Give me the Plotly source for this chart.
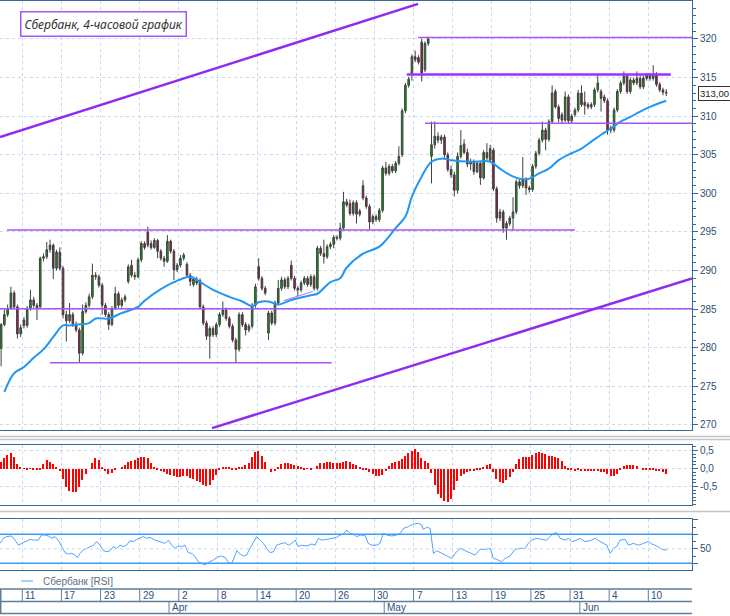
import plotly.graph_objects as go

# ---- price data: one 4-hour candle per index (Mar 5 .. Jun 11) ----
open_ = [
    279.9, 283.0, 284.3, 285.1, 287.1, 285.3, 281.8, 283.6, 282.9, 285.1,
    286.2, 285.5, 285.3, 291.6, 291.8, 292.7, 293.3, 290.3, 292.4, 290.3,
    284.3, 283.5, 284.3, 283.0, 282.3, 279.3, 284.7, 285.5, 286.6, 289.4,
    289.2, 288.1, 285.5, 284.3, 283.0, 285.1, 287.0, 285.5, 286.2, 288.6,
    290.7, 289.4, 289.2, 291.4, 293.5, 295.0, 293.5, 293.0, 293.9, 292.5,
    291.6, 291.2, 293.8, 292.5, 290.1, 290.7, 291.6, 290.8, 289.4, 288.2,
    288.9, 288.7, 285.3, 283.2, 281.5, 282.5, 281.7, 283.0, 284.3, 284.9,
    283.8, 282.8, 281.0, 279.8, 284.3, 283.0, 282.3, 282.8, 285.5, 290.5,
    289.0, 287.7, 281.9, 284.5, 283.2, 285.8, 287.7, 288.8, 287.9, 290.7,
    289.0, 287.7, 287.5, 288.4, 289.0, 288.2, 289.2, 287.7, 292.9, 292.2,
    291.8, 293.1, 293.4, 294.3, 294.2, 295.5, 298.9, 298.7, 297.4, 298.8,
    297.3, 301.0, 299.4, 298.3, 296.3, 297.0, 296.6, 297.8, 303.3, 302.6,
    303.5, 302.9, 303.9, 305.0, 310.7, 314.0, 315.6, 317.7, 317.6, 319.6,
    316.0, 319.4, 304.8, 306.3, 307.4, 306.9, 307.3, 305.0, 303.1, 302.4,
    300.4, 304.8, 306.4, 305.3, 303.8, 304.1, 302.8, 303.9, 302.0, 305.3,
    304.3, 305.6, 300.6, 296.8, 297.6, 295.5, 296.1, 296.8, 297.6, 301.5,
    301.0, 301.8, 300.7, 300.5, 303.5, 305.2, 306.9, 308.2, 307.0, 309.3,
    313.2, 311.2, 310.2, 309.5, 312.5, 309.4, 310.2, 310.8, 313.0, 311.8,
    311.5, 311.2, 311.5, 313.4, 313.2, 312.5, 312.0, 308.5, 308.2, 310.8,
    313.2, 314.3, 315.2, 313.2, 314.7, 314.3, 314.9, 313.8, 314.9, 315.3,
    314.9, 315.4, 314.1, 313.4, 313.1,
]
high = [
    283.2, 285.1, 285.6, 287.9, 287.4, 285.6, 283.0, 284.0, 285.4, 287.5,
    286.6, 285.8, 291.8, 292.2, 293.7, 294.0, 293.5, 292.7, 293.0, 290.6,
    284.8, 285.8, 284.6, 283.4, 282.6, 285.6, 285.9, 287.0, 290.9, 289.8,
    289.5, 288.4, 285.8, 284.6, 285.4, 287.9, 287.3, 286.5, 286.9, 290.8,
    291.4, 289.8, 291.7, 293.8, 293.8, 295.7, 293.9, 294.2, 294.1, 292.8,
    291.9, 294.6, 294.0, 292.8, 291.0, 292.0, 292.3, 291.1, 289.7, 289.2,
    289.2, 289.0, 285.6, 283.5, 282.8, 282.8, 283.3, 284.6, 286.0, 285.2,
    284.1, 283.1, 281.3, 284.6, 284.6, 283.3, 283.1, 285.8, 288.3, 291.6,
    289.3, 288.0, 284.8, 284.8, 286.1, 288.8, 289.2, 289.1, 289.3, 291.3,
    289.3, 288.0, 288.7, 289.3, 289.3, 289.5, 289.5, 293.2, 293.2, 294.0,
    293.4, 293.7, 294.6, 294.6, 296.2, 300.2, 299.3, 299.2, 299.1, 299.1,
    298.0, 301.7, 299.7, 298.6, 297.3, 297.3, 298.1, 303.6, 304.1, 303.8,
    303.8, 304.2, 306.1, 311.0, 314.3, 315.1, 318.0, 318.5, 317.9, 320.0,
    319.7, 320.3, 309.3, 309.3, 307.9, 307.6, 307.6, 305.3, 303.6, 302.8,
    305.3, 308.2, 307.0, 305.8, 304.5, 304.4, 304.2, 304.1, 305.6, 306.5,
    306.3, 305.9, 300.9, 298.0, 297.9, 296.4, 297.1, 299.5, 301.8, 301.8,
    304.7, 302.1, 301.0, 303.8, 305.5, 307.2, 309.3, 308.5, 309.6, 314.0,
    313.5, 311.5, 310.5, 313.2, 312.8, 310.3, 311.1, 313.4, 314.0, 313.2,
    311.8, 311.8, 313.7, 315.3, 313.5, 312.8, 312.3, 308.8, 311.1, 313.5,
    314.6, 315.8, 315.5, 315.0, 315.0, 315.8, 315.2, 315.2, 315.6, 315.6,
    316.6, 315.7, 314.4, 313.7, 313.5,
]
low = [
    277.6, 282.8, 284.0, 284.9, 285.0, 281.2, 281.4, 282.5, 282.6, 284.8,
    285.2, 283.6, 285.0, 291.2, 291.5, 292.3, 288.9, 290.0, 290.0, 283.8,
    280.8, 283.2, 282.7, 282.0, 278.1, 279.0, 284.4, 285.2, 286.3, 288.8,
    287.8, 284.3, 284.0, 282.3, 282.8, 284.9, 285.2, 285.2, 285.9, 288.3,
    289.1, 288.8, 289.0, 291.1, 292.7, 293.0, 292.7, 292.8, 291.6, 291.3,
    290.5, 291.0, 292.2, 288.8, 289.8, 290.4, 291.3, 289.2, 288.0, 287.9,
    288.1, 285.0, 282.9, 281.0, 278.6, 281.4, 281.4, 282.7, 284.0, 283.5,
    282.5, 280.7, 278.1, 279.5, 282.7, 281.6, 282.0, 282.5, 285.2, 288.7,
    287.4, 286.8, 281.0, 282.9, 282.9, 285.5, 287.4, 287.6, 287.6, 288.7,
    287.4, 286.7, 287.2, 288.1, 287.9, 287.9, 287.4, 287.4, 291.9, 290.9,
    291.5, 292.8, 292.9, 293.9, 293.9, 295.2, 298.2, 297.1, 297.1, 296.1,
    297.0, 299.1, 298.0, 295.3, 296.0, 296.3, 296.3, 297.5, 302.3, 302.3,
    302.6, 302.6, 303.6, 304.7, 310.4, 313.7, 314.6, 317.0, 316.7, 314.5,
    315.7, 319.1, 301.3, 305.8, 306.5, 306.4, 304.6, 302.8, 302.0, 299.6,
    300.0, 304.5, 305.1, 303.4, 303.0, 302.4, 302.6, 301.1, 301.8, 304.3,
    304.0, 300.3, 296.2, 296.4, 294.9, 294.0, 295.8, 295.2, 297.3, 300.6,
    300.7, 299.8, 300.1, 300.2, 303.2, 304.9, 306.6, 305.6, 306.7, 309.0,
    311.0, 309.2, 309.1, 309.2, 309.1, 309.1, 309.9, 310.5, 311.2, 310.2,
    310.9, 310.9, 311.2, 313.1, 310.6, 311.7, 307.6, 307.8, 307.9, 310.5,
    312.9, 314.0, 312.9, 312.9, 314.0, 314.0, 313.5, 313.5, 314.6, 314.6,
    314.6, 313.8, 313.1, 312.7, 312.6,
]
close = [
    283.0, 284.3, 285.1, 287.1, 285.3, 281.8, 282.6, 282.9, 285.1, 286.2,
    285.5, 285.1, 291.6, 291.8, 292.7, 293.3, 290.3, 292.4, 290.3, 284.3,
    283.5, 284.3, 283.0, 282.3, 279.3, 284.7, 285.5, 286.6, 289.4, 289.2,
    288.1, 285.5, 284.3, 283.0, 285.1, 287.0, 285.5, 286.2, 286.6, 290.5,
    289.4, 289.2, 291.4, 293.5, 293.0, 293.3, 293.0, 293.9, 292.5, 291.6,
    291.2, 293.8, 292.5, 290.1, 290.7, 291.6, 292.0, 289.4, 288.6, 288.9,
    288.4, 285.3, 283.2, 281.5, 282.5, 281.7, 283.0, 284.3, 284.9, 283.8,
    282.8, 281.0, 279.8, 284.3, 283.0, 282.3, 282.8, 285.5, 287.9, 289.0,
    287.7, 287.1, 284.5, 283.2, 285.8, 287.7, 288.8, 287.9, 289.0, 289.0,
    287.7, 287.5, 288.4, 289.0, 288.2, 289.2, 287.7, 292.9, 292.2, 291.8,
    293.1, 293.4, 294.3, 294.2, 295.5, 298.9, 298.5, 297.4, 298.8, 297.3,
    297.7, 299.4, 298.3, 296.3, 297.0, 296.6, 297.8, 303.3, 302.6, 303.5,
    302.9, 303.9, 304.8, 310.7, 314.0, 314.8, 317.7, 317.3, 317.0, 315.6,
    319.4, 320.0, 306.3, 307.4, 306.9, 307.3, 305.0, 303.1, 302.4, 300.4,
    304.8, 306.2, 305.3, 303.8, 304.1, 302.8, 303.9, 302.0, 305.3, 304.6,
    305.8, 300.6, 296.8, 297.6, 295.5, 296.1, 296.8, 297.6, 301.5, 301.0,
    301.8, 300.7, 300.5, 303.5, 305.2, 306.9, 308.2, 307.0, 309.3, 313.0,
    311.2, 309.7, 309.5, 312.5, 309.4, 310.0, 310.8, 313.0, 311.5, 311.4,
    311.2, 311.5, 313.4, 314.3, 312.3, 312.0, 308.2, 308.2, 310.8, 313.2,
    314.3, 315.2, 313.2, 314.7, 314.3, 314.9, 313.8, 314.9, 315.3, 314.9,
    315.4, 314.1, 313.4, 313.1, 313.0,
]
bars = list(range(len(close)))

# moving average (bar index, value)
ma_pos = [1, 4, 7, 10, 13, 16, 19, 21, 23, 27, 29, 33, 37, 42, 44, 49, 53, 58, 60,
          65, 70, 74, 77, 79, 82, 85, 89, 95, 97, 101, 104, 106, 111, 116, 121, 124,
          126, 129, 132, 135, 138, 144, 150, 153, 156, 159, 162, 165, 168, 171, 175,
          178, 181, 184, 187, 190, 193, 196, 199, 202, 204]
ma_val = [274.3, 276.7, 277.5, 278.7, 279.8, 281.4, 282.9, 282.9, 283.0, 283.2,
          283.8, 283.8, 284.5, 285.3, 286.1, 287.6, 288.5, 289.2, 288.8, 287.5,
          286.6, 286.0, 285.4, 285.9, 286.0, 285.6, 286.2, 286.8, 287.0, 288.5,
          289.0, 290.4, 292.2, 293.1, 295.5, 297.0, 299.6, 302.2, 304.1, 304.5,
          304.3, 304.1, 304.1, 303.2, 302.4, 301.9, 301.9, 302.6, 303.2, 304.3,
          305.2, 305.8, 306.7, 307.6, 308.4, 309.3, 309.9, 310.6, 311.2, 311.7,
          312.0]

# MACD histogram, one value per bar
macd_hist = [
    0.18, 0.28, 0.37, 0.43, 0.33, 0.12, 0.02, -0.01, -0.02, -0.01,
    -0.02, -0.04, -0.02, 0.12, 0.23, 0.18, 0.12, 0.04, -0.06, -0.30,
    -0.50, -0.62, -0.66, -0.65, -0.52, -0.33, -0.15, 0.00, 0.14, 0.30,
    0.25, 0.05, -0.08, -0.14, -0.12, -0.05, 0.00, 0.04, 0.10, 0.17,
    0.21, 0.24, 0.30, 0.33, 0.32, 0.28, 0.15, 0.05, -0.02, -0.07,
    -0.11, -0.15, -0.18, -0.21, -0.23, -0.23, -0.22, -0.22, -0.25, -0.29,
    -0.34, -0.38, -0.46, -0.48, -0.45, -0.33, -0.17, -0.03, 0.05, 0.04,
    0.02, -0.03, -0.02, 0.03, 0.05, 0.09, 0.16, 0.32, 0.45, 0.48,
    0.35, 0.18, 0.00, -0.10, -0.08, 0.05, 0.12, 0.16, 0.15, 0.12,
    0.10, 0.08, 0.03, -0.02, -0.01, -0.02, 0.00, 0.08, 0.14, 0.16,
    0.17, 0.17, 0.16, 0.15, 0.14, 0.18, 0.21, 0.19, 0.13, 0.09,
    0.04, -0.02, -0.05, -0.10, -0.16, -0.20, -0.22, -0.17, -0.08, 0.08,
    0.15, 0.17, 0.20, 0.27, 0.35, 0.42, 0.50, 0.53, 0.45, 0.30,
    0.20, 0.14, -0.12, -0.45, -0.70, -0.82, -0.89, -0.92, -0.85, -0.60,
    -0.36, -0.22, -0.14, -0.10, -0.08, -0.07, -0.05, -0.03, 0.03, 0.09,
    0.13, -0.10, -0.28, -0.38, -0.41, -0.33, -0.24, -0.10, 0.12, 0.27,
    0.31, 0.33, 0.32, 0.37, 0.42, 0.45, 0.43, 0.40, 0.36, 0.34,
    0.33, 0.30, 0.20, 0.06, -0.03, -0.05, -0.06, -0.05, -0.06, -0.07,
    -0.06, -0.08, -0.06, -0.07, -0.09, -0.10, -0.15, -0.20, -0.22, -0.15,
    -0.05, 0.06, 0.10, 0.11, 0.10, 0.06, 0.00, -0.02, -0.03, -0.04,
    -0.04, -0.06, -0.08, -0.11, -0.14,
]

# RSI line (bar position, value)
rsi_pos = [
    -0.3, 0.7, 1.7, 3.2, 4.3, 5.3, 6.3, 7.3, 8.9, 9.9, 11.4, 12.4, 13.5, 14.5, 15.5,
    16.5, 17.5, 18.6, 19.6, 20.6, 21.6, 22.7, 23.4, 24.2, 25.2, 26.2, 27.3, 28.3,
    29.3, 30.3, 31.4, 32.4, 33.4, 34.4, 35.4, 36.5, 37.5, 38.5, 39.5, 40.6, 41.6,
    42.6, 43.6, 44.7, 45.7, 47.2, 48.7, 50.3, 51.3, 52.3, 53.3, 54.4, 55.4, 56.4,
    57.4, 58.5, 59.5, 60.5, 61.5, 62.5, 63.6, 65.1, 66.6, 67.7, 68.7, 69.7, 70.7,
    71.2, 72.3, 73.3, 74.3, 75.3, 76.3, 77.4, 78.4, 79.4, 80.4, 81.5, 82.5, 83.5,
    84.5, 86.1, 87.1, 88.1, 89.1, 90.2, 91.2, 92.2, 93.7, 95.3, 96.3, 97.3, 98.3,
    99.9, 101.4, 102.9, 104.0, 105.0, 106.0, 107.0, 108.0, 109.1, 110.1, 111.6,
    112.6, 113.7, 115.2, 116.2, 117.2, 118.3, 119.8, 121.3, 122.4, 123.4, 124.9,
    126.4, 128.0, 129.0, 129.5, 130.5, 131.6, 132.1, 132.6, 133.6, 135.1, 136.7,
    138.2, 139.2, 140.8, 142.3, 143.8, 145.4, 146.9, 148.4, 150.0, 151.0, 152.0,
    153.5, 154.6, 156.1, 157.6, 159.2, 160.7, 161.7, 162.7, 164.3, 165.8, 167.3,
    168.4, 169.4, 170.4, 171.4, 173.0, 174.0, 175.0, 176.0, 177.6, 179.1, 180.6,
    182.2, 183.7, 184.7, 185.8, 186.8, 187.8, 188.8, 189.8, 191.4, 192.4, 193.9,
    195.5, 197.0, 198.5, 199.6, 201.1, 202.6, 204.2,
]
rsi_val = [
    57.5, 64.5, 66.8, 67.7, 62.0, 55.0, 57.5, 60.0, 63.0, 62.0, 62.0, 69.0, 69.0, 67.7, 64.5,
    66.8, 62.0, 53.0, 44.7, 42.8, 43.7, 41.4, 37.8, 43.7, 48.3, 50.6, 53.0, 55.0,
    60.0, 55.0, 47.4, 46.0, 47.4, 53.0, 50.6, 55.0, 53.0, 55.0, 61.2, 60.0, 63.0,
    64.5, 66.8, 64.5, 65.8, 62.0, 60.0, 57.5, 62.0, 55.0, 50.6, 53.9, 53.0, 55.0,
    44.7, 43.7, 39.1, 32.2, 30.0, 27.7, 31.4, 34.6, 39.1, 40.0, 38.2, 30.9, 30.0,
    34.6, 47.4, 42.8, 40.0, 41.4, 50.6, 60.0, 66.8, 62.0, 57.5, 50.6, 44.7, 46.0,
    55.0, 57.5, 58.4, 55.0, 57.5, 62.0, 53.0, 55.0, 53.9, 56.6, 55.0, 64.5, 62.0,
    63.0, 64.5, 65.8, 69.0, 70.3, 75.9, 71.3, 70.3, 66.8, 69.0, 68.5,
    57.5, 55.0, 55.0, 57.5, 71.3, 69.0, 67.7, 69.0, 71.3, 78.2, 80.5,
    84.2, 85.1, 82.8, 76.8, 79.6, 78.2, 62.0, 43.7, 47.4, 43.7, 40.0,
    36.8, 43.7, 50.6, 47.4, 44.7, 41.4, 49.3, 49.3, 50.6, 36.8, 35.5,
    32.2, 36.8, 40.0, 49.3, 50.6, 50.6, 57.5, 62.0, 64.5, 63.0, 62.0,
    66.8, 71.3, 72.2, 64.5, 62.0, 64.5, 60.0, 61.2, 64.5, 60.0, 61.2,
    64.5, 60.0, 57.5, 55.0, 43.7, 50.6, 53.0, 62.0, 63.0, 55.0, 57.5,
    55.0, 57.5, 60.0, 56.6, 53.9, 49.3, 48.3,
]

# date scale: a label every 12 bars, months
day_labels = ["11", "17", "23", "29", "2", "8", "14", "20", "26", "30",
              "7", "13", "19", "25", "31", "4", "10"]
day_pos = [6.5 + 12 * k for k in range(len(day_labels))]
month_labels = ["Apr", "May", "Jun"]
month_pos = [51.5, 117.5, 177.5]

# drawn support / resistance levels: (from bar, to bar, price)
levels_thin = [(127.9, 212.0, 320.2), (130.0, 212.0, 309.1), (1.8, 176.0, 295.25),
               (-0.4, 212.0, 285.05), (15.0, 101.4, 278.05)]
level_thick = (124.4, 205.4, 315.4)
trends = [(-0.34, 307.3, 127.9, 324.55), (64.7, 269.6, 211.9, 288.97)]
short_trend = (86.6, 286.1, 95.6, 287.3)

W, H = 730, 616
X_END = 692 / W
X_RANGE = [-0.34, 211.9]
BORDER = "#3b6797"
GRID = "#c6dbf1"
TXT = "#2e4f73"
FONT = "Liberation Sans"


def py(px):
    return 1 - px / H


fig = go.Figure()
fig.add_trace(go.Candlestick(
    x=bars, open=open_, high=high, low=low, close=close,
    increasing=dict(line=dict(color="#404040", width=1), fillcolor="#00a800"),
    decreasing=dict(line=dict(color="#404040", width=1), fillcolor="#a3124e"),
    whiskerwidth=0, xaxis="x", yaxis="y", hoverinfo="skip", name="Сбербанк"))
fig.add_trace(go.Scatter(x=ma_pos, y=ma_val, mode="lines", xaxis="x", yaxis="y",
                         line=dict(color="#2196f3", width=2, shape="spline"),
                         hoverinfo="skip"))
fig.add_trace(go.Bar(x=bars, y=macd_hist, xaxis="x2", yaxis="y2", width=0.45,
                     marker=dict(color="#ff0000", line=dict(width=0)), hoverinfo="skip"))
fig.add_trace(go.Scatter(x=rsi_pos, y=rsi_val, mode="lines", xaxis="x3", yaxis="y3",
                         line=dict(color="#4da3ff", width=1), hoverinfo="skip"))

xcommon = dict(domain=[0, X_END], range=X_RANGE, tickvals=day_pos, showticklabels=False,
               ticks="", showgrid=True, gridcolor=GRID, griddash="dot", zeroline=False,
               showline=True, mirror=True, linecolor=BORDER, linewidth=1)
ycommon = dict(side="right", showline=True, mirror=True, linecolor=BORDER, linewidth=1,
               ticks="outside", ticklen=5, tickcolor=BORDER, zeroline=False,
               tickfont=dict(family=FONT, size=10, color=TXT),
               showgrid=True, gridcolor=GRID, griddash="dot")

shapes = []
for x0, x1, y in levels_thin:
    shapes.append(dict(type="line", xref="x", yref="y", x0=x0, x1=x1, y0=y, y1=y,
                       line=dict(color="#a855f7", width=1.5)))
shapes.append(dict(type="line", xref="x", yref="y", x0=level_thick[0], x1=level_thick[1],
                   y0=level_thick[2], y1=level_thick[2],
                   line=dict(color="#9b30ff", width=2.5)))
for x0, y0, x1, y1 in trends:
    shapes.append(dict(type="line", xref="x", yref="y", x0=x0, y0=y0, x1=x1, y1=y1,
                       line=dict(color="#8f2bf0", width=2.5)))
shapes.append(dict(type="line", xref="x", yref="y", x0=short_trend[0], y0=short_trend[1],
                   x1=short_trend[2], y1=short_trend[3], line=dict(color="#b070ff", width=1)))

# RSI guide lines
for lvl in (70, 30):
    shapes.append(dict(type="line", xref="paper", yref="y3", x0=0, x1=X_END, y0=lvl, y1=lvl,
                       line=dict(color="#3d9bff", width=1.5)))
shapes.append(dict(type="line", xref="paper", yref="y3", x0=0, x1=X_END, y0=50, y1=50,
                   line=dict(color=GRID, width=1, dash="dot")))

# gray panel separators
for ypx, w in ((436.5, 1.5), (439.5, 1.5), (511.5, 1.5)):
    shapes.append(dict(type="line", xref="paper", yref="paper", x0=0, x1=1,
                       y0=py(ypx), y1=py(ypx), line=dict(color="#c4c4c4", width=w)))

# date scale frame
ROW_TOP, ROW_MID, ROW_BOT = 589, 601.5, 613.5
for ypx in (ROW_TOP, ROW_MID, ROW_BOT):
    shapes.append(dict(type="line", xref="paper", yref="paper", x0=0, x1=X_END,
                       y0=py(ypx), y1=py(ypx), line=dict(color="#5b7d9f", width=1.5)))
shapes.append(dict(type="line", xref="paper", yref="paper", x0=0.001, x1=0.001,
                   y0=py(ROW_BOT), y1=py(ROW_TOP), line=dict(color="#5b7d9f", width=1.5)))
for p in day_pos:
    shapes.append(dict(type="line", xref="x", yref="paper", x0=p, x1=p,
                       y0=py(ROW_MID), y1=py(ROW_TOP), line=dict(color="#5b7d9f", width=1)))
for p in month_pos:
    shapes.append(dict(type="line", xref="x", yref="paper", x0=p, x1=p,
                       y0=py(ROW_BOT), y1=py(ROW_MID), line=dict(color="#5b7d9f", width=1)))

# RSI legend sample line
shapes.append(dict(type="line", xref="paper", yref="paper", x0=21 / W, x1=33 / W,
                   y0=py(581), y1=py(581), line=dict(color="#4da3ff", width=1)))

annotations = []
for lab, p in zip(day_labels, day_pos):
    annotations.append(dict(text=lab, x=p, xref="x", y=py(595.5), yref="paper",
                            xanchor="left", yanchor="middle", xshift=1, showarrow=False,
                            font=dict(family=FONT, size=10, color=TXT)))
for lab, p in zip(month_labels, month_pos):
    annotations.append(dict(text=lab, x=p, xref="x", y=py(607.5), yref="paper",
                            xanchor="left", yanchor="middle", xshift=1, showarrow=False,
                            font=dict(family=FONT, size=10, color=TXT)))
annotations.append(dict(text="Сбербанк [RSI]", x=41 / W, xref="paper", y=py(581), yref="paper",
                        xanchor="left", yanchor="middle", showarrow=False,
                        font=dict(family=FONT, size=10, color="#5a6f85")))
annotations.append(dict(text="<i>Сбербанк, 4-часовой график</i>", x=20 / W, xref="paper",
                        y=py(11), yref="paper", xanchor="left", yanchor="top",
                        showarrow=False, bgcolor="white", bordercolor="#a855f7",
                        borderwidth=1.5, borderpad=3,
                        font=dict(family="Noto Sans", size=12, color="#333333")))
annotations.append(dict(text="313,00", x=698 / W, xref="paper", y=close[-1], yref="y",
                        xanchor="left", yanchor="middle", showarrow=False, bgcolor="white",
                        bordercolor="#333333", borderwidth=1, borderpad=1,
                        font=dict(family=FONT, size=9.5, color="#222222")))

fig.update_layout(
    width=W, height=H, margin=dict(l=0, r=0, t=0, b=0),
    paper_bgcolor="white", plot_bgcolor="white", showlegend=False, bargap=0,
    xaxis=dict(xcommon, anchor="y", rangeslider=dict(visible=False)),
    xaxis2=dict(xcommon, anchor="y2", matches="x"),
    xaxis3=dict(xcommon, anchor="y3", matches="x"),
    yaxis=dict(ycommon, domain=[py(430), py(1)], range=[269.35, 324.92], dtick=5, tick0=0,
               minor=dict(dtick=1, ticks="outside", ticklen=3, tickcolor=BORDER,
                          showgrid=False)),
    yaxis2=dict(ycommon, domain=[py(505), py(445)], range=[-1.014, 0.653],
                tickvals=[-0.5, 0, 0.5], ticktext=["-0,5", "0,0", "0,5"],
                minor=dict(dtick=0.1, ticks="outside", ticklen=3, tickcolor=BORDER,
                           showgrid=False)),
    yaxis3=dict(ycommon, domain=[py(570), py(519)], range=[20.8, 91.1],
                tickvals=[30, 50, 70, 90], ticktext=["", "50", "", ""], showgrid=False,
                minor=dict(dtick=10, ticks="outside", ticklen=3, tickcolor=BORDER)),
    shapes=shapes, annotations=annotations,
)

# the page's default body margin would push the 730x616 figure off the window
fig.write_html("out.html", config={"displayModeBar": False},
               post_script="document.body.style.margin = '0';")
